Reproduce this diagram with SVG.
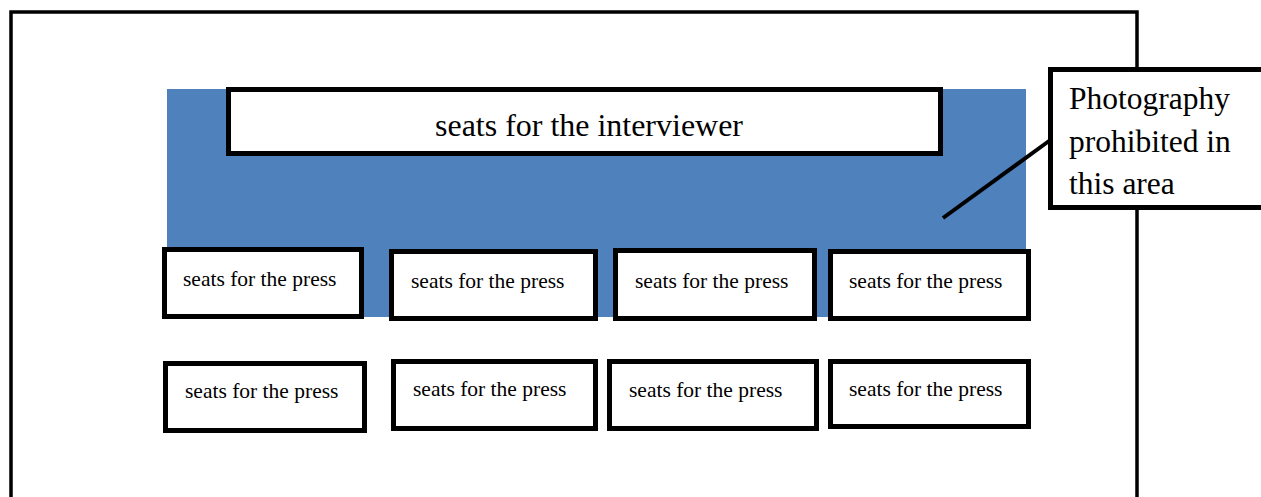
<svg xmlns="http://www.w3.org/2000/svg" width="1261" height="497" viewBox="0 0 1261 497">
<style>
.box{fill:#fff;stroke:#000;stroke-width:5}
.t{font-family:"Liberation Serif","Times New Roman",serif;fill:#000}
.p{font-size:21.5px}
.c{font-size:31.5px}
</style>
<rect width="1261" height="497" fill="#fff"/>
<path d="M11,497 V12 H1137 V497" fill="none" stroke="#000" stroke-width="3.5"/>
<rect id="no-photo-area" x="167" y="89" width="859" height="228" fill="#4F81BD"/>
<g id="interviewer">
<rect class="box" x="228.5" y="89.5" width="712" height="64"/>
<text class="t" x="589" y="136" font-size="31" text-anchor="middle" textLength="308" lengthAdjust="spacingAndGlyphs">seats for the interviewer</text>
</g>
<g id="connectors">
<line x1="943" y1="218" x2="1049" y2="141" stroke="#000" stroke-width="4"/>
</g>
<g id="callout">
<rect class="box" x="1050.5" y="69.5" width="220" height="138"/>
<text class="t c" x="1069" y="109">Photography</text>
<text class="t c" x="1069" y="152">prohibited in</text>
<text class="t c" x="1069" y="194">this area</text>
</g>
<g id="press1"><rect class="box" x="164.5" y="249.5" width="197" height="67"/><text class="t p" x="183" y="286">seats for the press</text></g>
<g id="press2"><rect class="box" x="391.5" y="251.5" width="204" height="67"/><text class="t p" x="411" y="288">seats for the press</text></g>
<g id="press3"><rect class="box" x="615.5" y="250.5" width="199" height="68"/><text class="t p" x="635" y="288">seats for the press</text></g>
<g id="press4"><rect class="box" x="830.5" y="251.5" width="198" height="67"/><text class="t p" x="849" y="288">seats for the press</text></g>
<g id="press5"><rect class="box" x="165.5" y="363.5" width="199" height="67"/><text class="t p" x="185" y="398">seats for the press</text></g>
<g id="press6"><rect class="box" x="393.5" y="361.5" width="202" height="67"/><text class="t p" x="413" y="396">seats for the press</text></g>
<g id="press7"><rect class="box" x="609.5" y="361.5" width="207" height="67"/><text class="t p" x="629" y="397">seats for the press</text></g>
<g id="press8"><rect class="box" x="830.5" y="361.5" width="198" height="65"/><text class="t p" x="849" y="396">seats for the press</text></g>
</svg>
